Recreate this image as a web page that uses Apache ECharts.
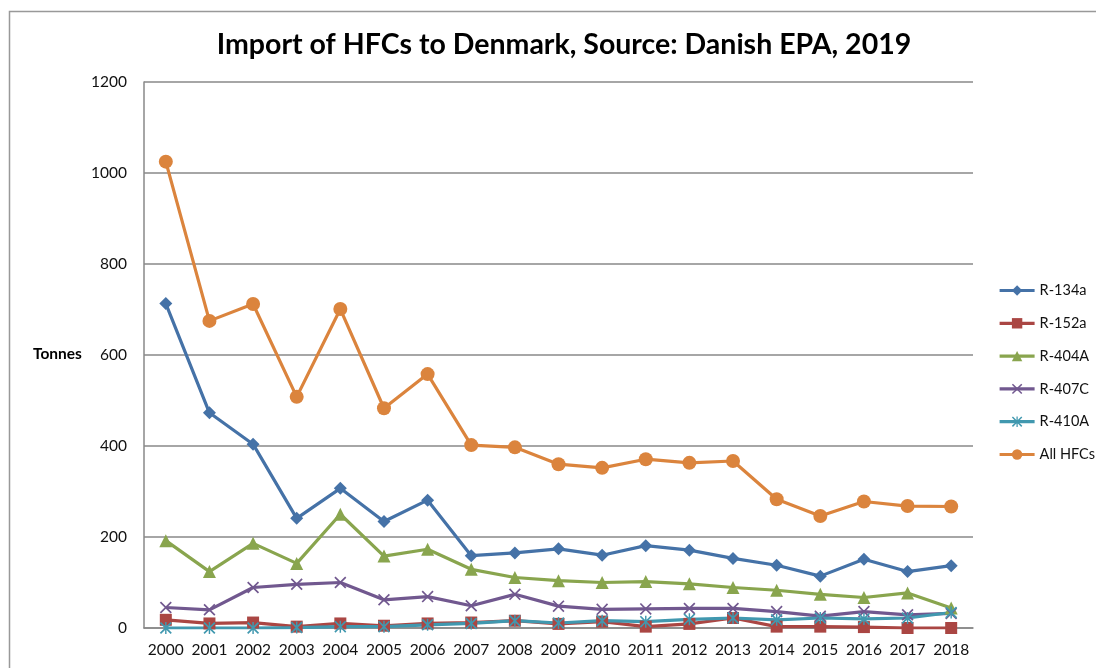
<!DOCTYPE html>
<html>
<head>
<meta charset="utf-8">
<script src="https://cdn.jsdelivr.net/npm/echarts@6/dist/echarts.min.js"></script>
<style>
  html, body { margin: 0; padding: 0; background: #fff; }
  #chart { width: 1096px; height: 668px; }
</style>
</head>
<body>
<div id="chart"></div>
<script>
// 数据
const years = ['2000', '2001', '2002', '2003', '2004', '2005', '2006', '2007', '2008', '2009',
  '2010', '2011', '2012', '2013', '2014', '2015', '2016', '2017', '2018']
const r134a = [713, 473, 404, 241, 307, 234, 281, 159, 165, 174, 160, 181, 171, 153, 138, 114, 151, 124, 137]
const r152a = [18, 10, 12, 3, 10, 5, 10, 12, 16, 9, 14, 3, 9, 22, 3, 3, 2, 0, 0]
const r404a = [192, 124, 186, 142, 250, 158, 173, 129, 111, 104, 100, 102, 97, 89, 83, 74, 67, 77, 44]
const r407c = [45, 40, 89, 96, 100, 62, 69, 49, 74, 48, 41, 42, 43, 43, 36, 26, 36, 29, 32]
const r410a = [0, 0, 0, 1, 3, 3, 7, 10, 16, 11, 16, 14, 19, 22, 18, 22, 20, 22, 34]
const allHfcs = [1025, 675, 712, 508, 701, 483, 558, 402, 397, 360, 352, 371, 363, 367, 283, 246, 278, 268, 267]

const font = 'Lato, "Open Sans", sans-serif'

// 标记形状
const xMark = 'path://M0,1 L1,0 L5,4 L9,0 L10,1 L6,5 L10,9 L9,10 L5,6 L1,10 L0,9 L4,5 Z'
const starMark = 'path://M0,1 L1,0 L5,4 L9,0 L10,1 L6,5 L10,9 L9,10 L5,6 L1,10 L0,9 L4,5 Z M4.4,0 L5.6,0 L5.6,10 L4.4,10 Z'

function makeSeries(name, data, color, symbol, size) {
  return {
    name: name,
    type: 'line',
    data: data,
    symbol: symbol,
    symbolSize: size,
    showAllSymbol: true,
    lineStyle: { width: 3.2, color: color },
    itemStyle: { color: color },
    emphasis: { disabled: true }
  }
}

let chart = echarts.init(document.getElementById('chart'))
let option = {
  animation: false,
  backgroundColor: '#fff',
  title: {
    text: 'Import of HFCs to Denmark, Source: Danish EPA, 2019',
    left: 559,
    top: 25,
    textAlign: 'center',
    textStyle: { fontFamily: font, fontSize: 28.5, fontWeight: 'bold', color: '#000' }
  },
  graphic: [
    {
      type: 'rect',
      left: 7,
      top: 9,
      shape: { width: 1200, height: 800 },
      style: { fill: 'none', stroke: '#999', lineWidth: 1.5 },
      silent: true
    },
    {
      type: 'text',
      left: 33,
      top: 346,
      style: { text: 'Tonnes', font: 'bold 15.5px ' + font, fill: '#000' }
    }
  ],
  legend: {
    orient: 'vertical',
    left: 998,
    top: 283,
    padding: 0,
    itemWidth: 35,
    itemHeight: 13,
    itemGap: 17.8,
    lineStyle: { width: 3.2 },
    textStyle: { fontFamily: font, fontSize: 14.5, color: '#111' },
    data: ['R-134a', 'R-152a', 'R-404A', 'R-407C', 'R-410A', 'All HFCs']
  },
  grid: {
    left: 144,
    right: 123,
    top: 82,
    bottom: 40
  },
  xAxis: {
    type: 'category',
    data: years,
    boundaryGap: true,
    axisLine: { show: true, lineStyle: { color: '#888', width: 1.5 } },
    axisTick: { show: false },
    axisLabel: { fontFamily: font, fontSize: 15.5, color: '#111', margin: 14, interval: 0 }
  },
  yAxis: {
    type: 'value',
    min: 0,
    max: 1200,
    interval: 200,
    axisLine: { show: true, lineStyle: { color: '#888', width: 1.5 } },
    axisTick: { show: false },
    axisLabel: {
      fontFamily: font, fontSize: 15.5, color: '#111', margin: 17,
      formatter: function (v) { return String(v) }
    },
    splitLine: { show: true, lineStyle: { color: '#888', width: 1.5 } }
  },
  series: [
    makeSeries('R-134a', r134a, '#4572A7', 'diamond', 13),
    makeSeries('R-152a', r152a, '#AA4643', 'rect', 12),
    makeSeries('R-404A', r404a, '#89A54E', 'triangle', 13),
    makeSeries('R-407C', r407c, '#71588F', xMark, 12),
    makeSeries('R-410A', r410a, '#4198AF', starMark, 12),
    makeSeries('All HFCs', allHfcs, '#DB843D', 'circle', 14)
  ]
}
chart.setOption(option, true)
</script>
</body>
</html>
